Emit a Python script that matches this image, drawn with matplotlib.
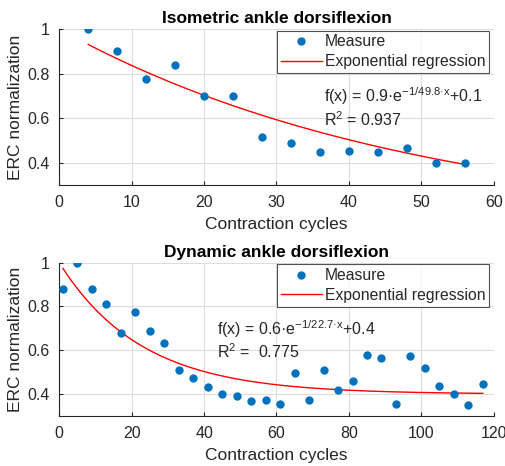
import numpy as np
import matplotlib
matplotlib.use("Agg")
import matplotlib.pyplot as plt

plt.rcParams['font.family'] = ['Liberation Sans', 'DejaVu Sans']
plt.rcParams['mathtext.default'] = 'regular'

# Isometric data
iso_x = [4, 8, 12, 16, 20, 24, 28, 32, 36, 40, 44, 48, 52, 56]
iso_y = [1.0, 0.901, 0.774, 0.837, 0.698, 0.698, 0.515, 0.488, 0.447, 0.454,
         0.449, 0.464, 0.397, 0.397]
iso_a, iso_tau, iso_c = 0.9, 49.8, 0.1
iso_r2 = 0.937

# Dynamic data
dyn_x = [1, 5, 9, 13, 17, 21, 25, 29, 33, 37, 41, 45, 49, 53, 57, 61, 65, 69,
         73, 77, 81, 85, 89, 93, 97, 101, 105, 109, 113, 117]
dyn_y = [0.878, 1.0, 0.878, 0.813, 0.679, 0.775, 0.69, 0.634, 0.512, 0.473,
         0.433, 0.40, 0.391, 0.367, 0.371, 0.354, 0.496, 0.374, 0.508, 0.42,
         0.461, 0.578, 0.567, 0.353, 0.573, 0.52, 0.439, 0.40, 0.35, 0.447]
dyn_a, dyn_tau, dyn_c = 0.6, 22.7, 0.4
dyn_r2 = 0.775

xticks_top = [0, 10, 20, 30, 40, 50, 60]
xticks_bot = [0, 20, 40, 60, 80, 100, 120]
yticks = [0.4, 0.6, 0.8, 1.0]
ytick_labels = ['0.4', '0.6', '0.8', '1']

W, H = 506, 466
fig = plt.figure(figsize=(W / 100, H / 100), dpi=100)

blue = '#0072BD'
axcol = '#262626'


def make_ax(rect, xs, ys, a, tau, c, r2, xlim, xticks, title, eq_pos, r2_pos, r2_text):
    ax = fig.add_axes(rect)
    ax.grid(True, color='#dcdcdc', linewidth=0.8)
    ax.set_axisbelow(True)
    ax.plot(xs, ys, 'o', color=blue, markersize=6, markeredgewidth=0,
            label='Measure', zorder=3)
    xf = np.linspace(xs[0], xs[-1], 200)
    ax.plot(xf, a * np.exp(-xf / tau) + c, color='#ff0000', linewidth=1.0,
            label='Exponential regression', zorder=2)
    ax.set_xlim(*xlim)
    ax.set_ylim(0.3, 1.0)
    ax.set_xticks(xticks)
    ax.set_yticks(yticks)
    ax.set_yticklabels(ytick_labels)
    for s in ['top', 'right']:
        ax.spines[s].set_visible(False)
    for s in ['left', 'bottom']:
        ax.spines[s].set_color(axcol)
        ax.spines[s].set_linewidth(0.8)
    ax.tick_params(direction='in', length=3, colors=axcol, labelsize=11.5,
                   labelcolor=axcol, pad=7)
    ax.set_xlabel('Contraction cycles', fontsize=12.5, color=axcol, labelpad=5)
    ax.set_ylabel('ERC normalization', fontsize=12.5, color=axcol, labelpad=3)
    ax.set_title(title, fontsize=12.5, fontweight='bold', pad=4)
    leg = ax.legend(loc='upper right', bbox_to_anchor=(0.99, 0.99),
                    fontsize=11.3, frameon=True, fancybox=False,
                    borderpad=0.25, labelspacing=0.3, handlelength=2.6,
                    handletextpad=0.2, borderaxespad=0.0)
    leg.get_frame().set_edgecolor(axcol)
    leg.get_frame().set_linewidth(0.8)
    for t in leg.get_texts():
        t.set_color(axcol)
    eq = 'f(x) = %s·e$^{-1/%s·x}$+%s' % (a, tau, c)
    ax.text(eq_pos[0], eq_pos[1], eq, transform=ax.transAxes, fontsize=11.5,
            color=axcol, va='baseline')
    ax.text(r2_pos[0], r2_pos[1], r2_text, transform=ax.transAxes,
            fontsize=11.5, color=axcol, va='baseline')
    return ax


make_ax([59.3 / W, (H - 185) / H, 434.4 / W, 156 / H], iso_x, iso_y,
        iso_a, iso_tau, iso_c, iso_r2, (0, 60), xticks_top,
        'Isometric ankle dorsiflexion', (0.61, 0.53), (0.61, 0.38),
        'R$^2$ = %s' % iso_r2)
make_ax([59.3 / W, (H - 416) / H, 434.4 / W, 153.3 / H], dyn_x, dyn_y,
        dyn_a, dyn_tau, dyn_c, dyn_r2, (0, 120), xticks_bot,
        'Dynamic ankle dorsiflexion', (0.363, 0.53), (0.363, 0.38),
        'R$^2$ =  %s' % dyn_r2)

fig.savefig('out.png', dpi=100)
